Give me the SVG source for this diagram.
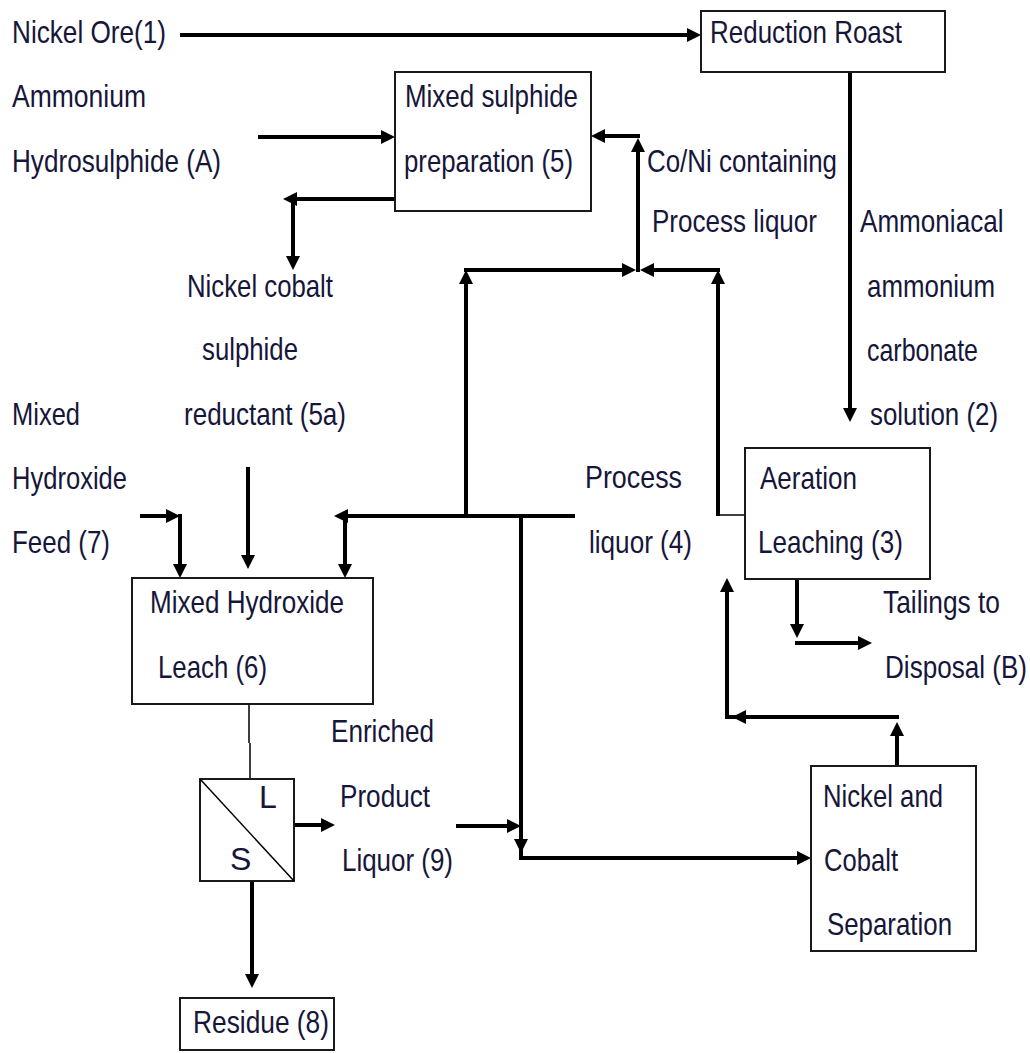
<svg xmlns="http://www.w3.org/2000/svg" width="1030" height="1053" viewBox="0 0 1030 1053">
<style>
text{font-family:"Liberation Sans",Arial,sans-serif;font-size:32px;fill:#16163a}
.box{fill:#fff;stroke:#1a1a1a;stroke-width:2}
.c{fill:none;stroke:#000;stroke-width:4}
.t{fill:none;stroke:#000;stroke-width:1.5}
.a{marker-end:url(#ah)}
</style>
<defs>
<marker id="ah" markerUnits="userSpaceOnUse" markerWidth="14" markerHeight="15" viewBox="0 0 14 15" refX="10" refY="7.5" orient="auto">
<path d="M0,0.5 L14,7.5 L0,14.5 z" fill="#000"/>
</marker>
</defs>
<rect width="1030" height="1053" fill="#fff"/>

<g id="connectors">
<path class="c a" d="M180,35 H697"/>
<path class="c a" d="M850,72 V418"/>
<path class="c a" d="M258,137 H391"/>
<path class="c a" d="M395,199 H287"/>
<path class="c a" d="M293,199 V266"/>
<path class="c a" d="M466,516 V274"/>
<path class="c a" d="M464,270 H632"/>
<path class="c a" d="M718,516 V274"/>
<path class="c a" d="M720,270 H644"/>
<path class="c a" d="M638,272 V142"/>
<path class="c a" d="M640,136 H595"/>
<path class="t" d="M745,515 H718"/>
<path class="c a" d="M575,516 H338"/>
<path class="c a" d="M345,514 V574"/>
<path class="c a" d="M521,514 V849"/>
<path class="c a" d="M519,858 H807"/>
<path class="c" d="M521,849 V860"/>
<path class="c a" d="M456,826 H517"/>
<path class="c a" d="M294,825 H331"/>
<path class="c a" d="M252,881 V984"/>
<path class="t" d="M249,704 V743 M250,743 V779"/>
<path class="c a" d="M140,516 H176"/>
<path class="c a" d="M180,514 V574"/>
<path class="c a" d="M248,467 V565"/>
<path class="c a" d="M797,579 V634"/>
<path class="c a" d="M795,643 H868"/>
<path class="c a" d="M897,766 V726"/>
<path class="c a" d="M899,717 H736"/>
<path class="c" d="M740,717 H725"/>
<path class="c a" d="M727,719 V582"/>
</g>

<g id="reduction-roast">
<rect class="box" x="701" y="11" width="244" height="61"/>
<text x="710" y="43" textLength="192" lengthAdjust="spacingAndGlyphs">Reduction Roast</text>
</g>
<g id="mixed-sulphide">
<rect class="box" x="395" y="72" width="196" height="139"/>
<text x="405" y="107" textLength="173" lengthAdjust="spacingAndGlyphs">Mixed sulphide</text>
<text x="404" y="172" textLength="169" lengthAdjust="spacingAndGlyphs">preparation (5)</text>
</g>
<g id="aeration-leaching">
<rect class="box" x="745" y="448" width="185" height="131"/>
<text x="760" y="489" textLength="97" lengthAdjust="spacingAndGlyphs">Aeration</text>
<text x="758" y="553" textLength="145" lengthAdjust="spacingAndGlyphs">Leaching (3)</text>
</g>
<g id="mixed-hydroxide-leach">
<rect class="box" x="132" y="578" width="241" height="126"/>
<text x="150" y="613" textLength="194" lengthAdjust="spacingAndGlyphs">Mixed Hydroxide</text>
<text x="158" y="678" textLength="109" lengthAdjust="spacingAndGlyphs">Leach (6)</text>
</g>
<g id="separator">
<rect class="box" x="200" y="779" width="94" height="102"/>
<path class="t" d="M200,779 L294,881"/>
<text x="259" y="808" font-size="30">L</text>
<text x="230" y="870" font-size="30">S</text>
</g>
<g id="residue">
<rect class="box" x="180" y="998" width="154" height="52"/>
<text x="193" y="1033" textLength="136" lengthAdjust="spacingAndGlyphs">Residue (8)</text>
</g>
<g id="ni-co-separation">
<rect class="box" x="811" y="766" width="165" height="185"/>
<text x="823" y="807" textLength="120" lengthAdjust="spacingAndGlyphs">Nickel and</text>
<text x="824" y="871" textLength="74" lengthAdjust="spacingAndGlyphs">Cobalt</text>
<text x="827" y="935" textLength="125" lengthAdjust="spacingAndGlyphs">Separation</text>
</g>

<g id="labels">
<text x="12" y="43" textLength="154" lengthAdjust="spacingAndGlyphs">Nickel Ore(1)</text>
<text x="12" y="107" textLength="134" lengthAdjust="spacingAndGlyphs">Ammonium</text>
<text x="12" y="172" textLength="209" lengthAdjust="spacingAndGlyphs">Hydrosulphide (A)</text>
<text x="647" y="172" textLength="190" lengthAdjust="spacingAndGlyphs">Co/Ni containing</text>
<text x="652" y="232" textLength="165" lengthAdjust="spacingAndGlyphs">Process liquor</text>
<text transform="matrix(0.815,0,0,1,860,232)">Ammoniacal</text>
<text x="867" y="297" textLength="128" lengthAdjust="spacingAndGlyphs">ammonium</text>
<text x="867" y="361" textLength="111" lengthAdjust="spacingAndGlyphs">carbonate</text>
<text x="870" y="425" textLength="128" lengthAdjust="spacingAndGlyphs">solution (2)</text>
<text x="187" y="297" textLength="146" lengthAdjust="spacingAndGlyphs">Nickel cobalt</text>
<text x="202" y="360" textLength="96" lengthAdjust="spacingAndGlyphs">sulphide</text>
<text x="184" y="425" textLength="162" lengthAdjust="spacingAndGlyphs">reductant (5a)</text>
<text x="12" y="425" textLength="68" lengthAdjust="spacingAndGlyphs">Mixed</text>
<text x="12" y="489" textLength="115" lengthAdjust="spacingAndGlyphs">Hydroxide</text>
<text x="12" y="553" textLength="98" lengthAdjust="spacingAndGlyphs">Feed (7)</text>
<text x="585" y="488" textLength="97" lengthAdjust="spacingAndGlyphs">Process</text>
<text x="589" y="553" textLength="103" lengthAdjust="spacingAndGlyphs">liquor (4)</text>
<text x="883" y="613" textLength="117" lengthAdjust="spacingAndGlyphs">Tailings to</text>
<text transform="matrix(0.815,0,0,1,885,678)">Disposal (B)</text>
<text x="331" y="742" textLength="103" lengthAdjust="spacingAndGlyphs">Enriched</text>
<text x="340" y="807" textLength="90" lengthAdjust="spacingAndGlyphs">Product</text>
<text x="342" y="871" textLength="111" lengthAdjust="spacingAndGlyphs">Liquor (9)</text>
</g>
</svg>
